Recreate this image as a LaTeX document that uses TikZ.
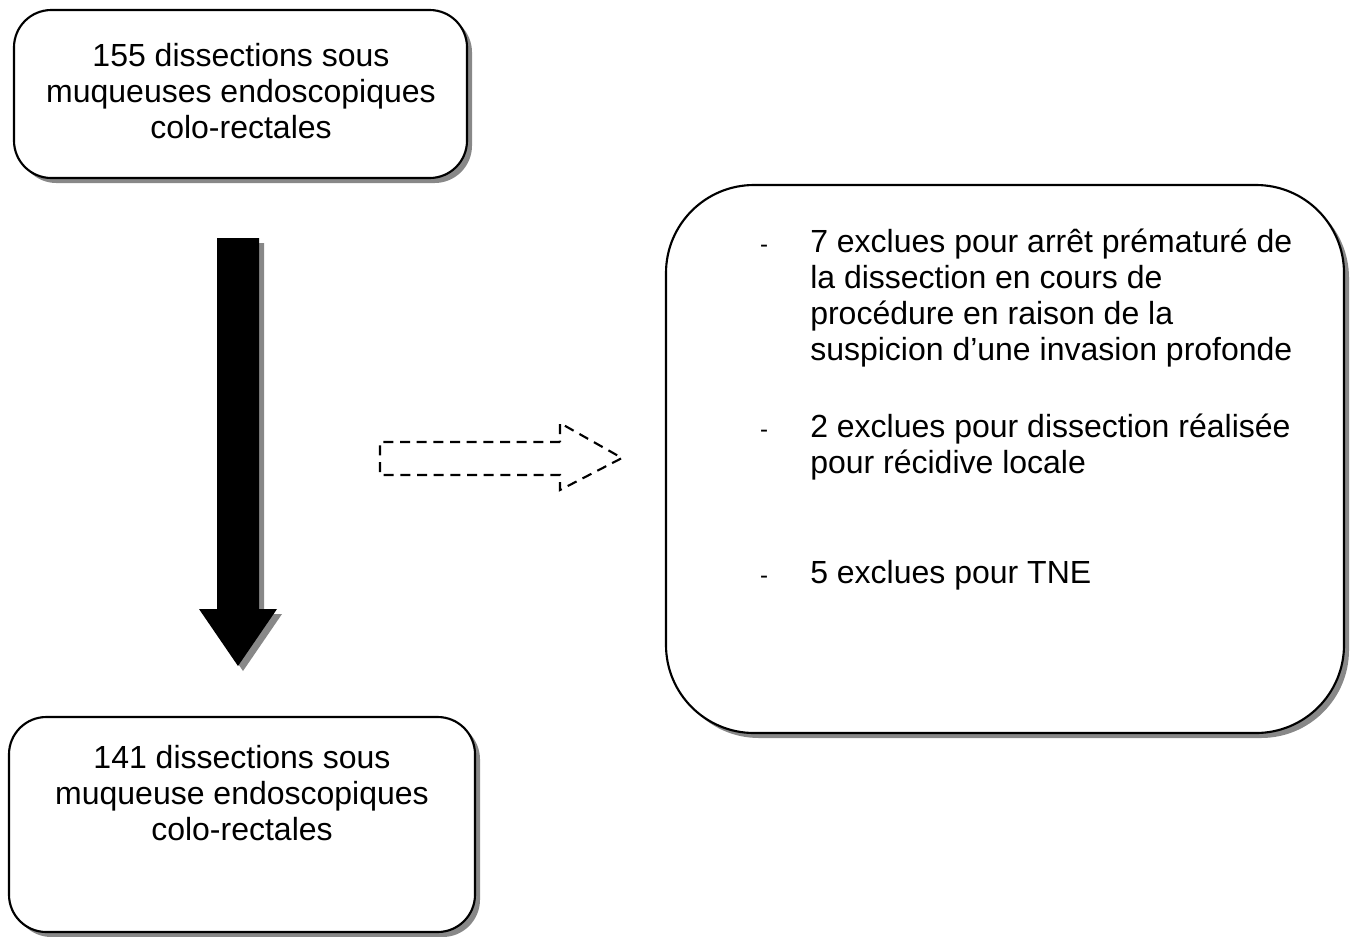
\documentclass[tikz,border=0pt]{standalone}
\usepackage{fontspec}
\setmainfont{Liberation Sans}
\definecolor{ombre}{RGB}{136,136,136}

\begin{document}
\begin{tikzpicture}[x=0.75pt,y=0.75pt,yscale=-1,xscale=1,
	every node/.style={font=\fontsize{24}{27}\selectfont,inner sep=0pt},
	tiret/.style={font=\fontsize{18}{20}\selectfont,anchor=base},
	boite/.style={line width=1.6pt,draw=black,fill=white,preaction={fill=ombre,draw=none,transform canvas={shift={(5,-5)}}}},
	pointille/.style={line width=1.6pt,dash pattern=on 7.5pt off 5pt}]
			\useasboundingbox (0,0) rectangle (1359,936);
			
			\draw[boite,rounded corners=28pt]    (14,10) rectangle (467,178) ;
			\draw[boite,rounded corners=28pt]    (9,717) rectangle (475,932) ;
			\draw[boite,rounded corners=66pt]    (666,185) rectangle (1344,733) ;
			\draw[boite,fill=black,draw=none]    (217,238) -- (259,238) -- (259,609) -- (277,609) -- (238,666) -- (199,609) -- (217,609) -- cycle ;
			\draw[pointille]    (560,442) -- (380,442) -- (380,475) -- (560,475) -- (560,490) -- (622,458) -- (560,423) -- cycle ;
			
			
			\node (haut) [align=center,anchor=base] at (241,138) {155 dissections sous\\muqueuses endoscopiques\\colo-rectales};
			\node (bas) [align=center,anchor=base] at (242,840) {141 dissections sous\\muqueuse endoscopiques\\colo-rectales};
			\node (tiretA) [tiret] at (764,252) {-};
			\node (exclA) [align=left,anchor=base west] at (810,360) {7 exclues pour arrêt prématuré de\\la dissection en cours de\\procédure en raison de la\\suspicion d’une invasion profonde};
			\node (tiretB) [tiret] at (764,437) {-};
			\node (exclB) [align=left,anchor=base west] at (810,473) {2 exclues pour dissection réalisée\\pour récidive locale};
			\node (tiretC) [tiret] at (764,583) {-};
			\node (exclC) [align=left,anchor=base west] at (810,583) {5 exclues pour TNE};
			\end{tikzpicture}
\end{document}
